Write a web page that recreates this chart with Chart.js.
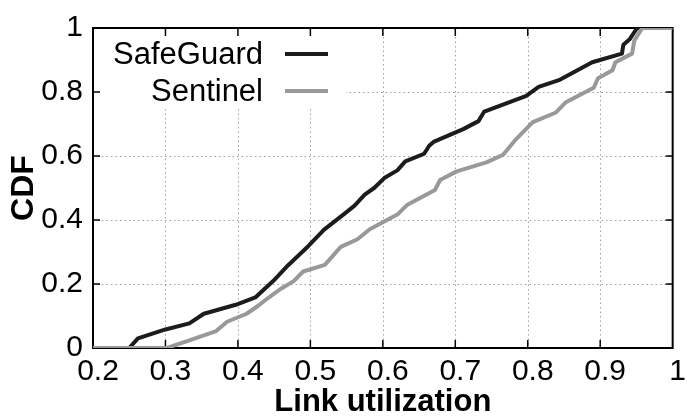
<!DOCTYPE html>
<html><head><meta charset="utf-8">
<script src="https://cdn.jsdelivr.net/npm/chart.js@4"></script>
<style>html,body{margin:0;padding:0;background:#fff}#wrap{width:687px;height:418px}</style>
</head><body><div id="wrap"><canvas id="c" width="687" height="418"></canvas></div>
<script>
const seriesNames = ['SafeGuard', 'Sentinel'];
const safeguardX = [0.2, 0.25, 0.262, 0.3, 0.333, 0.353, 0.397, 0.424, 0.449, 0.469, 0.497, 0.519, 0.549, 0.561, 0.575, 0.588, 0.602, 0.62, 0.631, 0.657, 0.664, 0.67, 0.711, 0.732, 0.74, 0.798, 0.815, 0.843, 0.889, 0.93, 0.932, 0.941, 0.951, 1.0];
const safeguardY = [0, 0, 0.03, 0.058, 0.077, 0.107, 0.135, 0.158, 0.21, 0.258, 0.318, 0.37, 0.423, 0.445, 0.479, 0.5, 0.531, 0.555, 0.583, 0.607, 0.632, 0.644, 0.684, 0.709, 0.739, 0.788, 0.816, 0.837, 0.893, 0.92, 0.948, 0.966, 1, 1];
const sentinelX = [0.2, 0.302, 0.329, 0.37, 0.385, 0.412, 0.428, 0.442, 0.46, 0.477, 0.49, 0.52, 0.542, 0.565, 0.582, 0.62, 0.634, 0.672, 0.679, 0.702, 0.743, 0.766, 0.784, 0.807, 0.839, 0.852, 0.891, 0.897, 0.917, 0.921, 0.944, 0.947, 0.958, 1.0];
const sentinelY = [0, 0, 0.021, 0.053, 0.082, 0.107, 0.132, 0.157, 0.186, 0.209, 0.239, 0.26, 0.316, 0.34, 0.371, 0.417, 0.448, 0.494, 0.525, 0.552, 0.58, 0.604, 0.653, 0.706, 0.736, 0.767, 0.813, 0.843, 0.868, 0.893, 0.92, 0.96, 1, 1];
const xTickValues = [0.2, 0.3, 0.4, 0.5, 0.6, 0.7, 0.8, 0.9, 1.0];
const xTickLabels = ['0.2', '0.3', '0.4', '0.5', '0.6', '0.7', '0.8', '0.9', '1'];
const yTickValues = [0, 0.2, 0.4, 0.6, 0.8, 1.0];
const yTickLabels = ['0', '0.2', '0.4', '0.6', '0.8', '1'];
const xTitle = 'Link utilization';
const yTitle = 'CDF';

const FONT = "'Liberation Sans', Arial, Helvetica, sans-serif";
const toPts = (xs, ys) => xs.map((v, i) => ({x: v, y: ys[i]}));

function seg(ctx, x1, y1, x2, y2) { ctx.beginPath(); ctx.moveTo(x1, y1); ctx.lineTo(x2, y2); ctx.stroke(); }

const frameLegend = {
  id: 'frameLegend',
  beforeDatasetsDraw(chart) {
    const {ctx, chartArea: a, scales: {x, y}} = chart;
    ctx.save();
    // dotted grid
    ctx.strokeStyle = '#a0a0a0';
    ctx.lineWidth = 1;
    ctx.setLineDash([1.5, 3]);
    xTickValues.slice(1, -1).forEach(v => {
      const px = Math.round(x.getPixelForValue(v)) + 0.5;
      seg(ctx, px, a.top, px, a.bottom);
    });
    yTickValues.slice(1, -1).forEach(v => {
      const py = Math.round(y.getPixelForValue(v)) + 0.5;
      seg(ctx, a.left, py, a.right, py);
    });
    ctx.setLineDash([]);
    // opaque legend box
    ctx.fillStyle = '#fff';
    ctx.fillRect(a.left + 1, a.top + 1, 252, 80);
    // frame
    ctx.strokeStyle = '#000';
    ctx.lineWidth = 2;
    ctx.strokeRect(a.left, a.top, a.right - a.left, a.bottom - a.top);
    // inward ticks
    ctx.lineWidth = 1.5;
    xTickValues.slice(1, -1).forEach(v => {
      const px = x.getPixelForValue(v);
      seg(ctx, px, a.bottom, px, a.bottom - 8);
      seg(ctx, px, a.top, px, a.top + 8);
    });
    yTickValues.slice(1, -1).forEach(v => {
      const py = y.getPixelForValue(v);
      seg(ctx, a.left, py, a.left + 7, py);
      seg(ctx, a.right, py, a.right - 7, py);
    });
    // legend
    ctx.font = '31px ' + FONT;
    ctx.textAlign = 'right';
    ctx.textBaseline = 'middle';
    chart.data.datasets.forEach((ds, i) => {
      const ly = a.top + 26 + i * 37;
      ctx.fillStyle = '#000';
      ctx.fillText(ds.label, a.left + 170, ly + 1);
      ctx.strokeStyle = ds.borderColor;
      ctx.lineWidth = 4;
      seg(ctx, a.left + 192, ly, a.left + 235, ly);
    });
    ctx.restore();
  }
};

new Chart(document.getElementById('c'), {
  type: 'scatter',
  data: {
    datasets: [
      {label: seriesNames[0], data: toPts(safeguardX, safeguardY), showLine: true, borderColor: '#1c1c1c', borderWidth: 4, pointRadius: 0, tension: 0, borderJoinStyle: 'round', order: 1},
      {label: seriesNames[1], data: toPts(sentinelX, sentinelY), showLine: true, borderColor: '#999999', borderWidth: 4, pointRadius: 0, tension: 0, borderJoinStyle: 'round', order: 0}
    ]
  },
  options: {
    responsive: false,
    animation: false,
    devicePixelRatio: 1,
    layout: {padding: {top: 22, right: 9, left: 0, bottom: 0}},
    plugins: {legend: {display: false}, tooltip: {enabled: false}},
    scales: {
      x: {
        type: 'linear', min: 0.2, max: 1.0,
        afterBuildTicks: s => { s.ticks = xTickValues.map(v => ({value: v})); },
        afterFit: s => { s.height = 70; },
        ticks: {autoSkip: false, maxRotation: 0, padding: 6, labelOffset: 5, color: '#000', font: {family: FONT, size: 30},
          callback: (v, i) => xTickLabels[i]},
        grid: {display: false, drawTicks: false},
        border: {display: false},
        title: {display: true, text: xTitle, color: '#000', font: {family: FONT, size: 31, weight: 'bold'}, padding: {top: 0, bottom: -3}}
      },
      y: {
        type: 'linear', min: 0, max: 1.0,
        afterBuildTicks: s => { s.ticks = yTickValues.map(v => ({value: v})); },
        afterFit: s => { s.width = 93; },
        ticks: {autoSkip: false, padding: 10, color: '#000', font: {family: FONT, size: 30},
          callback: (v, i) => yTickLabels[i]},
        grid: {display: false, drawTicks: false},
        border: {display: false},
        title: {display: true, text: yTitle, color: '#000', font: {family: FONT, size: 32, weight: 'bold'}, padding: {top: 5, bottom: 0}}
      }
    }
  },
  plugins: [frameLegend]
});
</script>
</body></html>
